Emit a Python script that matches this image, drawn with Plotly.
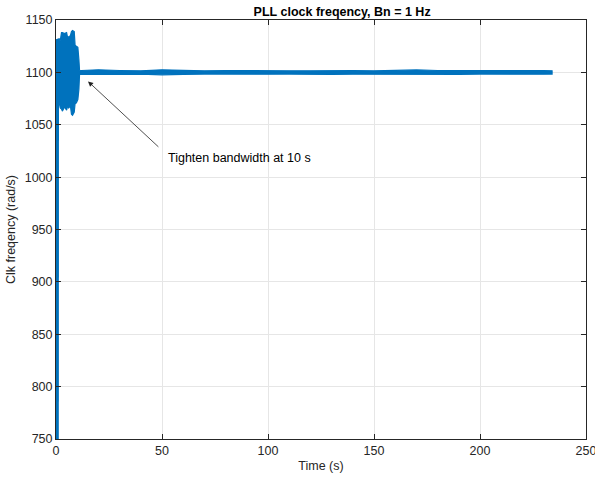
import plotly.graph_objects as go

# Initial rise (starts below the visible range)
rise_t = [0.5, 0.5, 0.6]
rise_v = [700, 1000, 1131]

# Transient (before tightening the bandwidth) envelope
trans_t = [0.0, 1.5, 2.0, 2.6, 3.0, 4.0, 5.0, 5.5, 6.0, 6.8, 7.3, 7.8, 8.6, 9.0, 9.6, 10.3, 10.8, 11.1]
trans_up = [1131, 1132, 1130, 1138, 1138, 1137, 1138, 1133, 1134, 1135, 1139, 1140, 1139, 1126, 1125, 1124, 1112, 1102]
trans_lo = [1070, 1071, 1066, 1065, 1063, 1067, 1064, 1068, 1066, 1068, 1060, 1059, 1062, 1070, 1071, 1074, 1084, 1098]

# Steady-state envelope after tightening
steady_t = [12, 20, 30, 40, 50, 60, 70, 80, 90, 100, 110, 120, 130, 140, 150, 160, 170, 180, 190, 200, 210, 220, 230, 234]
steady_up = [1101.8, 1102.4, 1101.8, 1101.5, 1102.4, 1101.9, 1101.5, 1101.8, 1101.5, 1101.8, 1101.5, 1101.5,
             1102.0, 1101.8, 1101.5, 1101.8, 1102.3, 1101.8, 1101.9, 1101.5, 1101.9, 1101.5, 1101.8, 1101.5]
steady_lo = [1098.2, 1097.7, 1098.2, 1098.4, 1097.7, 1098.1, 1098.4, 1098.2, 1098.4, 1098.2, 1098.4, 1098.4,
             1098.0, 1098.2, 1098.4, 1098.2, 1097.8, 1098.2, 1098.1, 1098.4, 1098.1, 1098.4, 1098.2, 1098.4]

x_ticks = [0, 50, 100, 150, 200, 250]
y_ticks = [750, 800, 850, 900, 950, 1000, 1050, 1100, 1150]

BLUE = "#0072BD"

env_t = trans_t + steady_t
env_up = trans_up + steady_up
env_lo = trans_lo + steady_lo
poly_t = env_t + env_t[::-1]
poly_v = env_up + env_lo[::-1]

fig = go.Figure()
fig.add_trace(go.Scatter(x=rise_t, y=rise_v, mode="lines",
                         line=dict(color=BLUE, width=3.5), hoverinfo="skip"))
fig.add_trace(go.Scatter(x=poly_t, y=poly_v, mode="lines", fill="toself",
                         fillcolor=BLUE, line=dict(color=BLUE, width=1.2), hoverinfo="skip"))

fig.add_annotation(x=15.1, y=1091.4, ax=49, ay=1027.6, xref="x", yref="y",
                   axref="x", ayref="y", text="", showarrow=True,
                   arrowhead=2, arrowsize=1.3, arrowwidth=0.8, arrowcolor="#222222")
fig.add_annotation(x=51.9, y=1018, xref="x", yref="y", text="Tighten bandwidth at 10 s",
                   showarrow=False, xanchor="left", yanchor="middle",
                   font=dict(size=12.5, color="#000000"))

axis_common = dict(showgrid=True, gridcolor="#e6e6e6", gridwidth=1,
                   showline=True, linecolor="#262626", linewidth=1, mirror="ticks",
                   ticks="inside", ticklen=5, tickcolor="#262626", zeroline=False,
                   ticklabeloverflow="allow",
                   tickfont=dict(size=12.5, color="#262626"))

fig.update_xaxes(range=[0, 250], tickvals=x_ticks, **axis_common,
                 title=dict(text="Time (s)", font=dict(size=12.5, color="#262626"), standoff=4))
fig.update_yaxes(range=[750, 1150], tickvals=y_ticks, **axis_common,
                 title=dict(text="Clk freqency (rad/s)", font=dict(size=12.5, color="#262626"), standoff=6))

fig.update_layout(
    width=595, height=477,
    margin=dict(l=56, r=9, t=20, b=38, autoexpand=False),
    plot_bgcolor="white", paper_bgcolor="white",
    showlegend=False,
    font=dict(family="Liberation Sans, Arial, sans-serif"),
    title=dict(text="<b>PLL clock freqency, Bn = 1 Hz</b>", x=0.575, xanchor="center",
               y=0.985, yanchor="top", font=dict(size=12.5, color="#000000")),
)

fig.write_html("out.html")
